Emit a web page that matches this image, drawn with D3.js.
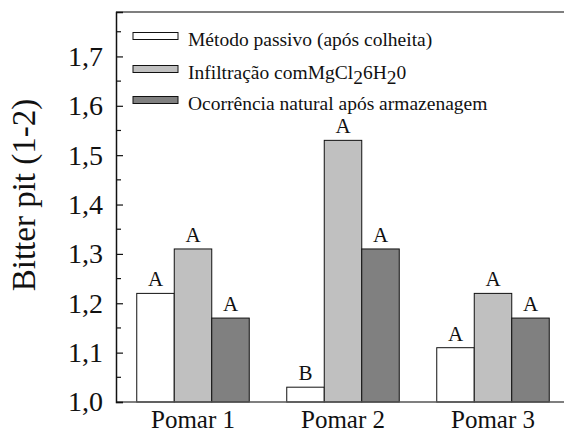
<!DOCTYPE html>
<html>
<head>
<meta charset="utf-8">
<script src="https://cdn.jsdelivr.net/npm/d3@7"></script>
<style>
  body { margin: 0; background: #fff; }
</style>
</head>
<body>
<div id="chart"></div>
<script>
// data
const orchards = ["Pomar 1", "Pomar 2", "Pomar 3"];
const seriesNames = ["Método passivo (após colheita)", "Infiltração comMgCl26H20", "Ocorrência natural após armazenagem"];
const passivo = [1.22, 1.03, 1.11];
const infiltracao = [1.31, 1.53, 1.22];
const natural = [1.17, 1.31, 1.17];
const letters = [["A", "B", "A"], ["A", "A", "A"], ["A", "A", "A"]];
const yTicks = [1.0, 1.1, 1.2, 1.3, 1.4, 1.5, 1.6, 1.7];
const colors = ["#ffffff", "#c0c0c0", "#808080"];

const width = 564, height = 435;
const mLeft = 116, mTop = 12, mRight = 570, mBottom = 402;

const svg = d3.select("#chart").append("svg")
  .attr("width", width)
  .attr("height", height);

const y = d3.scaleLinear().domain([1.0, 1.79]).range([mBottom, mTop]);
const x0 = d3.scaleBand().domain(orchards).range([mLeft + 2, mRight - 2]);
const x1 = d3.scaleBand().domain(d3.range(3)).range([0, 112.5]);
const offset = (x0.bandwidth() - 112.5) / 2;

const series = [passivo, infiltracao, natural];

// bars
const groups = svg.append("g").selectAll("g")
  .data(orchards)
  .join("g")
  .attr("transform", d => `translate(${x0(d) + offset},0)`);

groups.selectAll("rect")
  .data((d, i) => series.map((s, k) => ({ k, v: s[i], letter: letters[k][i] })))
  .join("rect")
  .attr("x", d => x1(d.k))
  .attr("y", d => y(d.v))
  .attr("width", x1.bandwidth())
  .attr("height", d => mBottom - y(d.v))
  .attr("fill", d => colors[d.k])
  .attr("stroke", "#111")
  .attr("stroke-width", 1);

groups.selectAll("text")
  .data((d, i) => series.map((s, k) => ({ k, v: s[i], letter: letters[k][i] })))
  .join("text")
  .attr("x", d => x1(d.k) + x1.bandwidth() / 2)
  .attr("y", d => y(d.v) - 7)
  .attr("text-anchor", "middle")
  .attr("font-size", 21)
  .attr("fill", "#111")
  .text(d => d.letter);

// frame
svg.append("line").attr("x1", mLeft).attr("x2", mRight).attr("y1", mTop).attr("y2", mTop)
  .attr("stroke", "#555").attr("stroke-width", 1.5);
svg.append("line").attr("x1", mLeft).attr("x2", mRight).attr("y1", mBottom).attr("y2", mBottom)
  .attr("stroke", "#555").attr("stroke-width", 1.5);

// y axis with inward ticks
const yAxis = d3.axisLeft(y)
  .tickValues(yTicks)
  .tickSize(-7)
  .tickPadding(13)
  .tickFormat(d => d3.format(".1f")(d).replace(".", ","));
const gy = svg.append("g").attr("transform", `translate(${mLeft},0)`).call(yAxis);
gy.select(".domain").attr("stroke", "#111").attr("stroke-width", 1.5);
gy.selectAll(".tick line").attr("stroke", "#111").attr("stroke-width", 1.2);
gy.selectAll(".tick text").attr("font-size", 28).attr("fill", "#111");

const minor = yTicks.map(t => t + 0.05);
svg.append("g").selectAll("line")
  .data(minor)
  .join("line")
  .attr("x1", mLeft).attr("x2", mLeft + 5)
  .attr("y1", d => y(d)).attr("y2", d => y(d))
  .attr("stroke", "#111").attr("stroke-width", 1.2);

// x labels
svg.append("g").selectAll("text")
  .data(orchards)
  .join("text")
  .attr("x", d => x0(d) + x0.bandwidth() / 2)
  .attr("y", 428)
  .attr("text-anchor", "middle")
  .attr("font-size", 25)
  .attr("fill", "#111")
  .text(d => d);

// y title
svg.append("text")
  .attr("transform", `translate(35,${(mTop + mBottom) / 2 - 12}) rotate(-90)`)
  .attr("text-anchor", "middle")
  .attr("font-size", 33)
  .attr("fill", "#111")
  .text("Bitter pit (1-2)");

// legend
const legendY = [36, 69, 100];
const legend = svg.append("g").selectAll("g")
  .data(seriesNames)
  .join("g")
  .attr("transform", (d, i) => `translate(133,${legendY[i]})`);

legend.append("rect")
  .attr("x", 0).attr("y", -3.5)
  .attr("width", 45).attr("height", 7)
  .attr("fill", (d, i) => colors[i])
  .attr("stroke", "#111").attr("stroke-width", 1);

legend.append("text")
  .attr("x", 55).attr("y", 10)
  .attr("font-size", 19.5)
  .attr("fill", "#111")
  .each(function (d, i) {
    const t = d3.select(this);
    if (i === 1) {
      t.append("tspan").text("Infiltração comMgCl");
      t.append("tspan").attr("dy", 5).text("2");
      t.append("tspan").attr("dy", -5).text("6H");
      t.append("tspan").attr("dy", 5).text("2");
      t.append("tspan").attr("dy", -5).text("0");
    } else {
      t.text(d);
    }
  });

svg.selectAll("text").style("font-family", '"Liberation Serif"');
</script>
</body>
</html>
